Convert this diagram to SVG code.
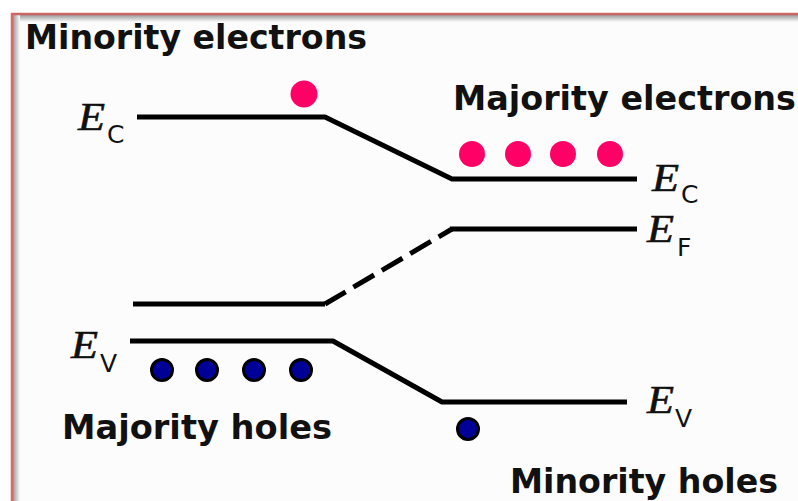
<svg xmlns="http://www.w3.org/2000/svg" width="798" height="501" viewBox="0 0 798 501">
  <defs>
    <linearGradient id="shTop" x1="0" y1="0" x2="0" y2="1">
      <stop offset="0" stop-color="#9a9a9a"/>
      <stop offset="1" stop-color="#fcfcfc"/>
    </linearGradient>
    <linearGradient id="shLeft" x1="0" y1="0" x2="1" y2="0">
      <stop offset="0" stop-color="#9a9a9a"/>
      <stop offset="1" stop-color="#fcfcfc"/>
    </linearGradient>
  </defs>
  <style>
    .lbl { font-family: "DejaVu Sans", Verdana, sans-serif; font-weight: bold; font-size: 33px; fill: #111; }
    .E { font-family: "Liberation Serif", "Times New Roman", serif; font-style: italic; font-size: 39px; fill: #111; stroke: #111; stroke-width: 0.6; }
    .sub { font-family: "DejaVu Sans", Verdana, sans-serif; font-size: 25px; fill: #111; }
    .band { fill: none; stroke: #000; stroke-width: 5; stroke-linejoin: round; }
    .dash { fill: none; stroke: #000; stroke-width: 5; stroke-dasharray: 24 9; }
    .e { fill: #ff0066; }
    .h { fill: #000099; stroke: #000; stroke-width: 3; }
  </style>
  <rect x="0" y="0" width="798" height="501" fill="#ffffff"/>
  <g id="frame">
    <rect x="11" y="13" width="800" height="500" fill="#fcfcfc"/>
    <rect x="13" y="15" width="798" height="7" fill="url(#shTop)"/>
    <rect x="13" y="15" width="7" height="498" fill="url(#shLeft)"/>
    <line x1="11" y1="14" x2="798" y2="14" stroke="#cc6666" stroke-width="2.5"/>
    <line x1="12" y1="13" x2="12" y2="501" stroke="#dd6666" stroke-width="2.5"/>
  </g>
  <g id="connectors">
    <polyline id="ec-band" class="band" points="137,117 325,117 452,179 637,179"/>
    <polyline id="ef-left" class="band" points="133,304 325,304"/>
    <line id="ef-dash" class="dash" x1="325" y1="304" x2="452" y2="229"/>
    <polyline id="ef-right" class="band" points="450,229 637,229"/>
    <polyline id="ev-band" class="band" points="130,341 333,341 442,402 627,402"/>
  </g>
  <g id="label-minority-electrons"><text class="lbl" x="25" y="49" textLength="342" lengthAdjust="spacingAndGlyphs">Minority electrons</text></g>
  <g id="label-majority-electrons"><text class="lbl" x="453" y="110" textLength="343" lengthAdjust="spacingAndGlyphs">Majority electrons</text></g>
  <g id="label-majority-holes"><text class="lbl" x="62" y="439" textLength="270" lengthAdjust="spacingAndGlyphs">Majority holes</text></g>
  <g id="label-minority-holes"><text class="lbl" x="510" y="493" textLength="268" lengthAdjust="spacingAndGlyphs">Minority holes</text></g>
  <g id="ec-left-label"><text class="E" x="78" y="130" textLength="27" lengthAdjust="spacingAndGlyphs">E</text><text class="sub" x="107" y="143">C</text></g>
  <g id="ec-right-label"><text class="E" x="652" y="191" textLength="27" lengthAdjust="spacingAndGlyphs">E</text><text class="sub" x="681" y="203">C</text></g>
  <g id="ef-right-label"><text class="E" x="647" y="242" textLength="27" lengthAdjust="spacingAndGlyphs">E</text><text class="sub" x="677" y="256">F</text></g>
  <g id="ev-left-label"><text class="E" x="71" y="358" textLength="27" lengthAdjust="spacingAndGlyphs">E</text><text class="sub" x="100" y="372">V</text></g>
  <g id="ev-right-label"><text class="E" x="647" y="413" textLength="27" lengthAdjust="spacingAndGlyphs">E</text><text class="sub" x="675" y="427">V</text></g>
  <g id="minority-electron"><circle class="e" cx="304" cy="94" r="13.5"/></g>
  <g id="majority-electrons">
    <circle class="e" cx="472" cy="154" r="13"/>
    <circle class="e" cx="518" cy="154" r="13"/>
    <circle class="e" cx="563" cy="154" r="13"/>
    <circle class="e" cx="610" cy="154" r="13"/>
  </g>
  <g id="majority-holes">
    <circle class="h" cx="162" cy="370" r="10.5"/>
    <circle class="h" cx="207" cy="370" r="10.5"/>
    <circle class="h" cx="254" cy="370" r="10.5"/>
    <circle class="h" cx="301" cy="370" r="10.5"/>
  </g>
  <g id="minority-hole"><circle class="h" cx="468" cy="429" r="10.5"/></g>
</svg>
